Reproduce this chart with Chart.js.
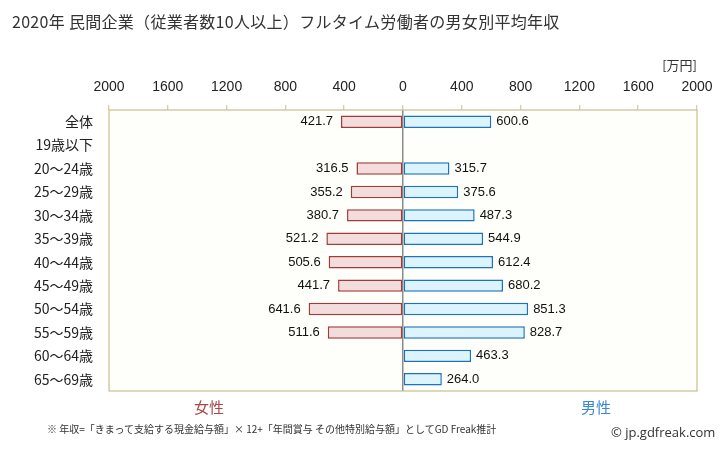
<!DOCTYPE html>
<html>
<head>
<meta charset="utf-8">
<script src="https://cdn.jsdelivr.net/npm/chart.js@4.4.0/dist/chart.umd.min.js"></script>
<style>
  body { margin: 0; background: #fff; }
  #wrap { position: relative; width: 728px; height: 451px; overflow: hidden; }
  #wrap div { position: absolute; white-space: nowrap; line-height: 1; }
  .jp { font-family: "Noto Sans CJK JP", sans-serif; }
</style>
</head>
<body>
<div id="wrap">
  <canvas id="myChart" width="728" height="451"></canvas>
  <div class="jp" style="left:12px; top:13px; font-size:16px; letter-spacing:0.3px; color:#333;">2020年 民間企業（従業者数10人以上）フルタイム労働者の男女別平均年収</div>
  <div class="jp" style="right:31px; top:58px; font-size:13px; color:#333;">[万円]</div>
  <div class="jp" style="left:194px; top:399px; font-size:15px; color:#a84848;">女性</div>
  <div class="jp" style="left:581px; top:399px; font-size:15px; color:#3a8ad0;">男性</div>
  <div class="jp" style="left:47px; top:424px; font-size:10px; color:#333;">※ 年収=「きまって支給する現金給与額」× 12+「年間賞与 その他特別給与額」としてGD Freak推計</div>
  <div style="left:611px; top:426px; font-size:13px; color:#333; font-family:'Open Sans', sans-serif;">© jp.gdfreak.com</div>
</div>
<script>
// age groups, top to bottom
var categories = ["全体", "19歳以下", "20～24歳", "25～29歳", "30～34歳", "35～39歳",
    "40～44歳", "45～49歳", "50～54歳", "55～59歳", "60～64歳", "65～69歳"];
// 万円
var femaleValues = [421.7, null, 316.5, 355.2, 380.7, 521.2, 505.6, 441.7, 641.6, 511.6, null, null];
var maleValues = [600.6, null, 315.7, 375.6, 487.3, 544.9, 612.4, 680.2, 851.3, 828.7, 463.3, 264.0];
var axisMin = -2000;
var axisMax = 2000;
var axisStep = 400;

var plotBg = "#fefefa";
var plotBorder = "#c8be90";

// female goes to the left, so flip the sign
var femaleLeft = femaleValues.map(function (v) { return v === null ? null : -v; });

// background + frame round the plot area
var framePlugin = {
    id: "frame",
    beforeDraw: function (chart) {
        var a = chart.chartArea;
        var ctx = chart.ctx;
        ctx.save();
        ctx.fillStyle = plotBg;
        ctx.fillRect(a.left, a.top, a.right - a.left, a.bottom - a.top);
        ctx.restore();
    },
    afterDraw: function (chart) {
        var a = chart.chartArea;
        var ctx = chart.ctx;
        ctx.save();
        ctx.strokeStyle = plotBorder;
        ctx.lineWidth = 1.2;
        ctx.strokeRect(a.left, a.top, a.right - a.left, a.bottom - a.top);
        ctx.restore();
    }
};

// numbers beside each bar
var valueLabels = {
    id: "valueLabels",
    afterDatasetsDraw: function (chart) {
        var ctx = chart.ctx;
        ctx.save();
        ctx.font = "13px 'Liberation Sans', sans-serif";
        ctx.fillStyle = "#111";
        ctx.textBaseline = "middle";
        chart.data.datasets.forEach(function (ds, i) {
            var meta = chart.getDatasetMeta(i);
            meta.data.forEach(function (bar, j) {
                var raw = ds.data[j];
                if (raw === null) return;
                var txt = Math.abs(raw).toFixed(1);
                if (raw < 0) {
                    ctx.textAlign = "right";
                    ctx.fillText(txt, bar.x - 8, bar.y);
                } else {
                    ctx.textAlign = "left";
                    ctx.fillText(txt, bar.x + 5, bar.y);
                }
            });
        });
        ctx.restore();
    }
};

var ctx = document.getElementById("myChart").getContext("2d");
var chart = new Chart(ctx, {
    type: "bar",
    data: {
        labels: categories,
        datasets: [{
            label: "女性",
            data: femaleLeft,
            backgroundColor: "#f2dcdc",
            borderColor: "#a33a3a",
            borderWidth: 1.5,
            borderSkipped: false
        }, {
            label: "男性",
            data: maleValues,
            backgroundColor: "#dcf4fd",
            borderColor: "#1a72c0",
            borderWidth: 1.5,
            borderSkipped: false
        }]
    },
    options: {
        indexAxis: "y",
        responsive: false,
        animation: false,
        devicePixelRatio: 1,
        barPercentage: 0.53,
        categoryPercentage: 1,
        layout: { padding: { top: 0, right: 31, bottom: 60, left: 0 } },
        plugins: {
            legend: { display: false },
            tooltip: { enabled: false }
        },
        scales: {
            x: {
                position: "top",
                stacked: true,
                min: axisMin,
                max: axisMax,
                afterFit: function (scale) { scale.height = 110; },
                ticks: {
                    stepSize: axisStep,
                    padding: 9,
                    color: "#222",
                    font: { family: "'Liberation Sans', sans-serif", size: 14 },
                    callback: function (v) { return Math.abs(v); }
                },
                grid: {
                    drawOnChartArea: true,
                    tickLength: 5,
                    tickColor: plotBorder,
                    tickWidth: 1,
                    lineWidth: 1.5,
                    color: function (c) { return c.tick && c.tick.value === 0 ? "#8a8a8a" : "rgba(0,0,0,0)"; }
                },
                border: { display: false }
            },
            y: {
                stacked: true,
                afterFit: function (scale) { scale.width = 109; },
                ticks: {
                    padding: 8,
                    color: "#222",
                    font: { family: "'Noto Sans CJK JP', sans-serif", size: 14 }
                },
                grid: { display: false },
                border: { display: false }
            }
        }
    },
    plugins: [framePlugin, valueLabels]
});
</script>
</body>
</html>
